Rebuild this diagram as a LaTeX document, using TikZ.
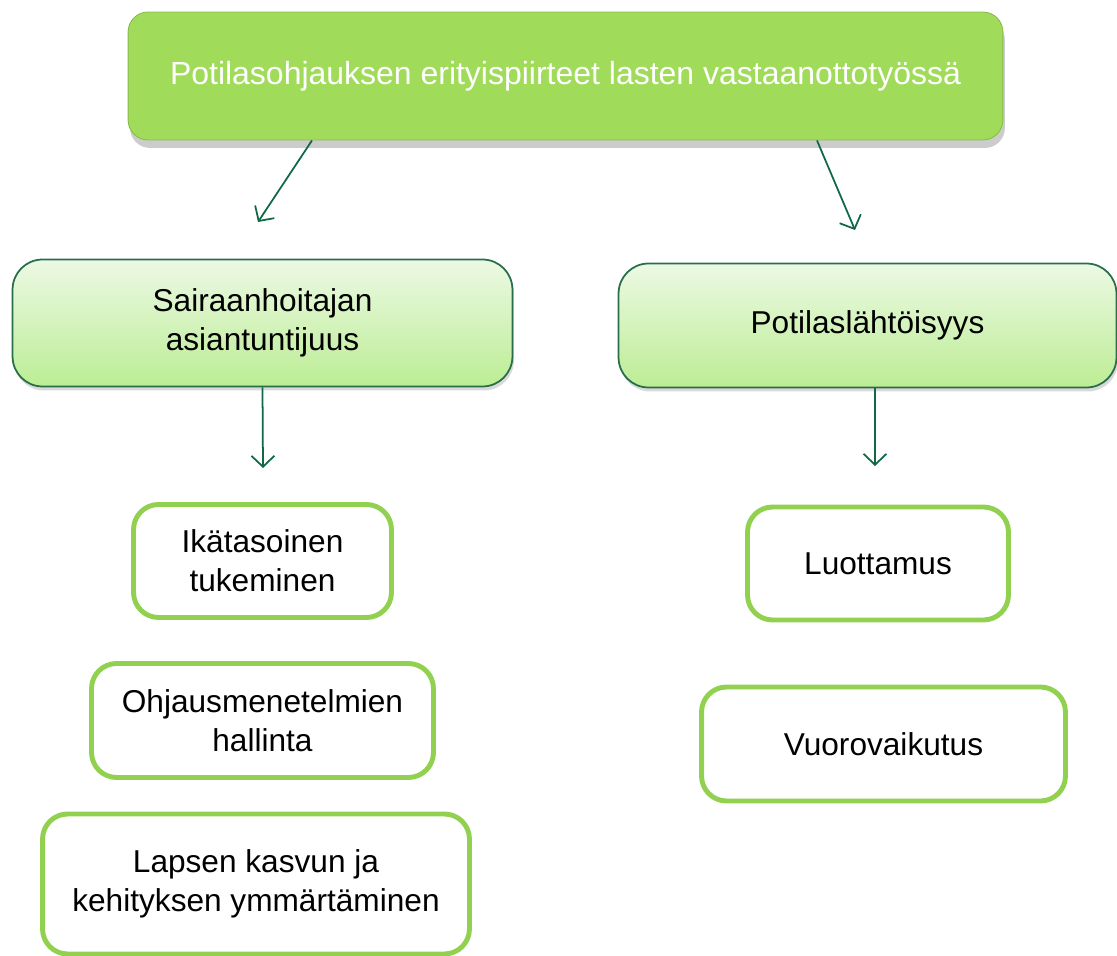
\documentclass[tikz,border=0pt]{standalone}
\usepackage{fontspec}
\setmainfont{Liberation Sans}
\usetikzlibrary{arrows.meta,shadows}
\definecolor{topgreen}{RGB}{160,220,90}
\definecolor{lightgreenA}{RGB}{236,249,228}
\definecolor{lightgreenB}{RGB}{188,237,148}
\definecolor{darkgreen}{RGB}{40,110,75}
\definecolor{arrowgreen}{RGB}{15,105,70}
\definecolor{leafgreen}{RGB}{146,208,80}
\begin{document}
\begin{tikzpicture}[x=0.02cm, y=-0.02cm]
        \tikzstyle{topbox} = [draw=topgreen!85!black, line width=0.5pt, fill=topgreen, rounded corners=0.4cm, align=center, text=white, font=\fontsize{18.2}{22}\selectfont, drop shadow={shadow xshift=0.4mm, shadow yshift=-1.6mm, opacity=0.4}]
        \tikzstyle{midbox} = [draw=darkgreen, line width=1pt, top color=lightgreenA, bottom color=lightgreenB, rounded corners=0.6cm, align=center, font=\fontsize{18}{22}\selectfont, drop shadow={shadow xshift=0.3mm, shadow yshift=-0.8mm, opacity=0.3}]
        \tikzstyle{leafbox} = [draw=leafgreen, line width=2.8pt, fill=white, rounded corners=0.5cm, align=center, font=\fontsize{18}{22}\selectfont]
        \tikzstyle{link} = [-{Straight Barb[length=2.2mm, width=4.6mm]}, draw=arrowgreen, line width=1pt]
        \useasboundingbox (0,0) rectangle (1117,956);
        \node[topbox, minimum width=17.5cm, minimum height=2.56cm] (top) at (565.5, 76) {Potilasohjauksen erityispiirteet lasten vastaanottotyössä};
        \node[midbox, minimum width=10.0cm, minimum height=2.54cm] (expert) at (262.5, 323) {Sairaanhoitajan\\asiantuntijuus};
        \node[midbox, minimum width=9.96cm, minimum height=2.48cm] (patient) at (867.5, 325.5) {Potilaslähtöisyys};
        \node[leafbox, minimum width=5.16cm, minimum height=2.26cm] (age) at (262.5, 561) {Ikätasoinen\\tukeminen};
        \node[leafbox, minimum width=6.84cm, minimum height=2.28cm] (method) at (262.5, 720.5) {Ohjausmenetelmien\\hallinta};
        \node[leafbox, minimum width=8.54cm, minimum height=2.8cm] (growth) at (256, 884) {Lapsen kasvun ja\\kehityksen ymmärtäminen};
        \node[leafbox, minimum width=5.22cm, minimum height=2.26cm] (trust) at (878, 563.5) {Luottamus};
        \node[leafbox, minimum width=7.28cm, minimum height=2.28cm] (inter) at (883.5, 744) {Vuorovaikutus};
        \coordinate (a1) at (258, 222);
        \coordinate (a2) at (855, 230);
        \coordinate (a3) at (263, 468);
        \coordinate (a4) at (875, 466);
        \draw[link] (top.south -| 312,0) -- (a1);
        \draw[link] (top.south -| 817,0) -- (a2);
        \draw[link] (expert.south) -- (a3);
        \draw[link] (patient.south -| 875,0) -- (a4);
      \end{tikzpicture}
\end{document}
